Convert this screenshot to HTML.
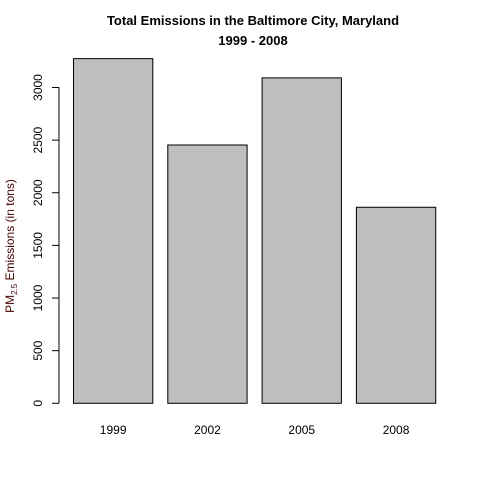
<!DOCTYPE html>
<html><head><meta charset="utf-8"><style>body{margin:0;background:#fff}svg{display:block;font-family:"Liberation Sans",Arial,sans-serif}</style></head>
<body>
<svg id="chart" width="480" height="480">
<text x="253" y="25" text-anchor="middle" font-size="13" font-weight="bold">Total Emissions in the Baltimore City, Maryland</text>
<text x="253" y="45" text-anchor="middle" font-size="13" font-weight="bold">1999 - 2008</text>
<text transform="translate(14,246) rotate(-90)" text-anchor="middle" font-size="12" fill="#400">PM<tspan font-size="8" dy="3">2.5</tspan><tspan dy="-3"> Emissions (in tons)</tspan></text>
<g id="bars"></g><g id="yaxis"></g><g id="xlabels"></g>
</svg>
<script>
const categories=["1999","2002","2005","2008"];
const values=[3274.2,2453.9,3091.4,1862.3];
const yTicks=[0,500,1000,1500,2000,2500,3000];
const y0=403.3, k=315.8/3000;
function yS(v){return y0-v*k;}
function xS(i){return 73.5+i*94.3;}
const bw=79.3, ns="http://www.w3.org/2000/svg";
const bars=document.getElementById('bars'), ya=document.getElementById('yaxis'), xl=document.getElementById('xlabels');
values.forEach((v,i)=>{
  const r=document.createElementNS(ns,'rect');
  r.setAttribute('x',xS(i));r.setAttribute('y',yS(v));r.setAttribute('width',bw);r.setAttribute('height',y0-yS(v));
  r.setAttribute('fill','#bebebe');r.setAttribute('stroke','#000');r.setAttribute('stroke-width','1');
  
  
  bars.appendChild(r);
  const t=document.createElementNS(ns,'text');
  t.setAttribute('x',xS(i)+bw/2);t.setAttribute('y',434);t.setAttribute('text-anchor','middle');t.setAttribute('font-size','12');
  t.textContent=categories[i];
  
  
  xl.appendChild(t);
});
const ax=document.createElementNS(ns,'line');
ax.setAttribute('x1',59);ax.setAttribute('x2',59);ax.setAttribute('y1',yS(0));ax.setAttribute('y2',yS(3000));ax.setAttribute('stroke','#000');


ya.appendChild(ax);
yTicks.forEach(v=>{
  const l=document.createElementNS(ns,'line');
  l.setAttribute('x1',52);l.setAttribute('x2',59);l.setAttribute('y1',yS(v));l.setAttribute('y2',yS(v));l.setAttribute('stroke','#000');
  
  
  ya.appendChild(l);
  const t=document.createElementNS(ns,'text');
  t.setAttribute('transform','translate(42,'+yS(v)+') rotate(-90)');t.setAttribute('text-anchor','middle');t.setAttribute('font-size','12');
  t.textContent=v;
  
  
  ya.appendChild(t);
});
</script>
</body></html>
